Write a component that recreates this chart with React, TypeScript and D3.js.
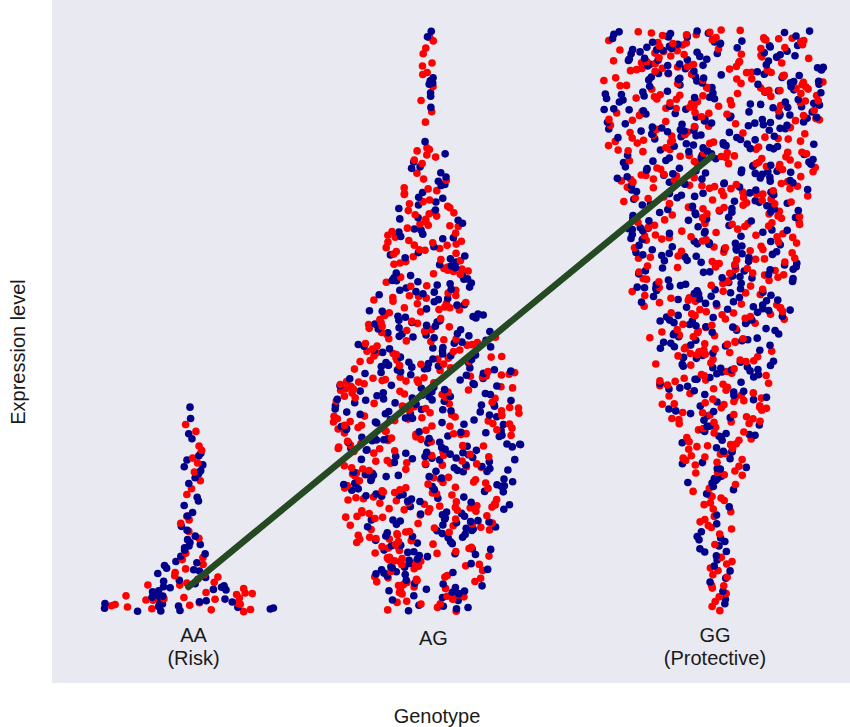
import React from 'react';
import * as d3 from 'd3';

// ---- data ----
const genotypes = ['AA', 'AG', 'GG'];
const genotypeSub = ['(Risk)', '', '(Protective)'];
const genotypePos = [0, 0.92, 2];
const swarmPos = [-0.01, 0.895, 1.995];
// expression level bins of 2.5 units (0..100), bottom bin first: number of samples
const binSize = 2.5;
const countsAA = [33, 21, 13, 9, 7, 5, 5, 3, 3, 6, 6, 3, 3, 1, 1, 0, 0, 0, 0, 0, 0, 0, 0, 0, 0, 0, 0, 0, 0, 0, 0, 0, 0, 0, 0, 0, 0, 0, 0, 0];
const countsAG = [16, 20, 22, 24, 26, 29, 31, 31, 32, 33, 33, 35, 35, 35, 35, 33, 33, 31, 26, 25, 22, 20, 18, 17, 16, 15, 14, 13, 10, 8, 6, 7, 1, 1, 2, 3, 6, 3, 2, 4];
const countsGG = [5, 6, 6, 7, 7, 7, 6, 7, 9, 12, 14, 15, 17, 20, 20, 21, 22, 23, 24, 25, 29, 30, 31, 32, 32, 32, 33, 33, 35, 37, 38, 39, 40, 40, 41, 41, 41, 41, 40, 40];
const fitX = [-0.02, 1.99];
const fitY = [4.3, 78.4];

const W = 850;
const H = 727;
const plot = { left: 52, right: 850, top: 0, bottom: 683 };
const x = d3.scaleLinear().domain([-0.543, 2.518]).range([plot.left, plot.right]);
const y = d3.scaleLinear().domain([-12.2, 105.15]).range([plot.bottom, plot.top]);

const RED = '#ff0000';
const BLUE = '#00008b';
const FONT = '"Liberation Sans", Arial, Helvetica, sans-serif';

function hash(n: number) {
  let h = (n ^ 61) ^ (n >>> 16);
  h = Math.imul(h, 9);
  h ^= h >>> 4;
  h = Math.imul(h, 0x27d4eb2d);
  h ^= h >>> 15;
  return h >>> 0;
}
const unit = (n: number) => hash(n) / 4294967296;

type Pt = { cx: number; cy: number; c: string };

function buildPoints(counts: number[], gi: number): Pt[] {
  const pts: Pt[] = [];
  const binPx = Math.abs(y(binSize) - y(0));
  const A = 78; // px^2 per point
  const hwAt = counts.map((c) => (c * A) / (2 * binPx));
  const centers = counts.map((_, i) => (i + 0.5) * binSize);
  const hwScale = d3.scaleLinear().domain(centers).range(hwAt).clamp(true);
  let n = gi * 5000;
  counts.forEach((c, i) => {
    for (let k = 0; k < c; k++) {
      n++;
      const u = unit(n * 3 + 1);
      const v = (k + unit(n * 3 + 2)) / c;
      const val = (i + v) * binSize;
      const hw = Math.max(2, hwScale(val));
      pts.push({
        cx: x(swarmPos[gi]) + (2 * u - 1) * hw,
        cy: y(val),
        c: (hash(n * 3 + 3) >>> 9) & 1 ? RED : BLUE,
      });
    }
  });
  return pts;
}

export default function App() {
  const groups = [countsAA, countsAG, countsGG];
  const all = groups.flatMap((g, gi) => buildPoints(g, gi));
  const line = d3
    .line<number>()
    .x((d) => x(d))
    .y((_, i) => y(fitY[i]));
  return (
    <svg width={W} height={H} style={{ display: 'block', position: 'absolute', left: 0, top: 0 }}>
      <rect x={0} y={0} width={W} height={H} fill="#ffffff" />
      <rect x={plot.left} y={plot.top} width={plot.right - plot.left} height={plot.bottom - plot.top} fill="#e9e9f1" />
      {all.map((p, i) => (
        <circle key={i} cx={p.cx} cy={p.cy} r={3.8} fill={p.c} />
      ))}
      <path d={line(fitX) || ''} stroke="#254a23" strokeWidth={6.5} strokeLinecap="round" fill="none" />
      {genotypes.map((g, i) => (
        <g key={g} fontFamily={FONT} fontSize={20} fill="#1a1a1a" textAnchor="middle">
          <text x={x(genotypePos[i])} y={genotypeSub[i] ? 642 : 645}>{g}</text>
          {genotypeSub[i] && (
            <text x={x(genotypePos[i])} y={665}>{genotypeSub[i]}</text>
          )}
        </g>
      ))}
      <text x={437} y={723} fontFamily={FONT} fontSize={20} fill="#1a1a1a" textAnchor="middle">Genotype</text>
      <text transform="translate(25,352) rotate(-90)" fontFamily={FONT} fontSize={20} fill="#1a1a1a" textAnchor="middle">Expression level</text>
    </svg>
  );
}
